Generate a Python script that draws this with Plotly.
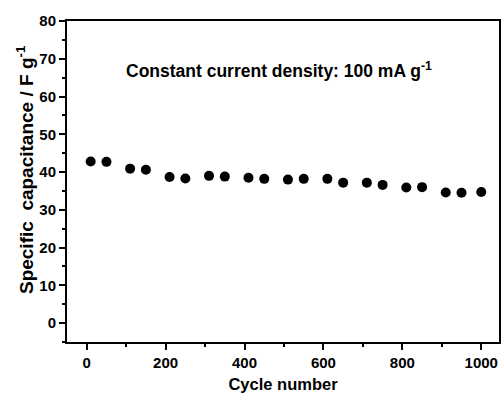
import plotly.graph_objects as go

cycles = [10, 50, 110, 150, 210, 250, 310, 350, 410, 450, 510, 550,
          610, 650, 710, 750, 810, 850, 910, 950, 1000]
capacitance = [42.8, 42.7, 40.9, 40.6, 38.7, 38.3, 39.0, 38.8, 38.5, 38.2,
               38.0, 38.2, 38.2, 37.2, 37.2, 36.6, 35.9, 36.0, 34.6, 34.5, 34.7]

FONT = "Liberation Sans, Arial, sans-serif"

fig = go.Figure()
fig.add_trace(go.Scatter(
    x=cycles, y=capacitance, mode="markers",
    marker=dict(symbol="circle", size=10, color="black"),
    showlegend=False,
))

axis_common = dict(
    showline=True, linecolor="black", linewidth=2, mirror=True,
    ticks="outside", tickcolor="black", tickwidth=1.5, ticklen=6,
    showgrid=False, zeroline=False,
    tickfont=dict(family=FONT, size=15, color="black", weight="bold"),
)

fig.update_layout(
    width=501, height=393,
    margin=dict(l=67, r=2, t=21, b=51, autoexpand=False),
    paper_bgcolor="white", plot_bgcolor="white",
    xaxis=dict(
        range=[-50, 1045], tickvals=[0, 200, 400, 600, 800, 1000],
        minor=dict(ticks="outside", dtick=100, tick0=0, ticklen=3, tickcolor="black", tickwidth=1.5),
        title=dict(text="Cycle number", font=dict(family=FONT, size=16.5, color="black", weight="bold"), standoff=11),
        **axis_common,
    ),
    yaxis=dict(
        range=[-5, 80], tickvals=[0, 10, 20, 30, 40, 50, 60, 70, 80],
        minor=dict(ticks="outside", dtick=5, tick0=0, ticklen=3, tickcolor="black", tickwidth=1.5),
        **axis_common,
    ),
    annotations=[
        dict(
            text="Constant current density: 100 mA g<sup>-1</sup>",
            xref="paper", yref="paper", x=0.49, y=0.847,
            showarrow=False, xanchor="center", yanchor="middle",
            font=dict(family=FONT, size=17.5, color="black", weight="bold"),
        ),
        dict(
            text="Specific  capacitance / F g<sup>-1</sup>",
            xref="paper", yref="paper", x=-0.097, y=0.536, textangle=-90,
            showarrow=False, xanchor="center", yanchor="middle",
            font=dict(family=FONT, size=19, color="black", weight="bold"),
        ),
    ],
)

fig.write_html("out.html", config={"displayModeBar": False},
               post_script="document.body.style.margin='0';document.body.style.overflow='hidden';")
